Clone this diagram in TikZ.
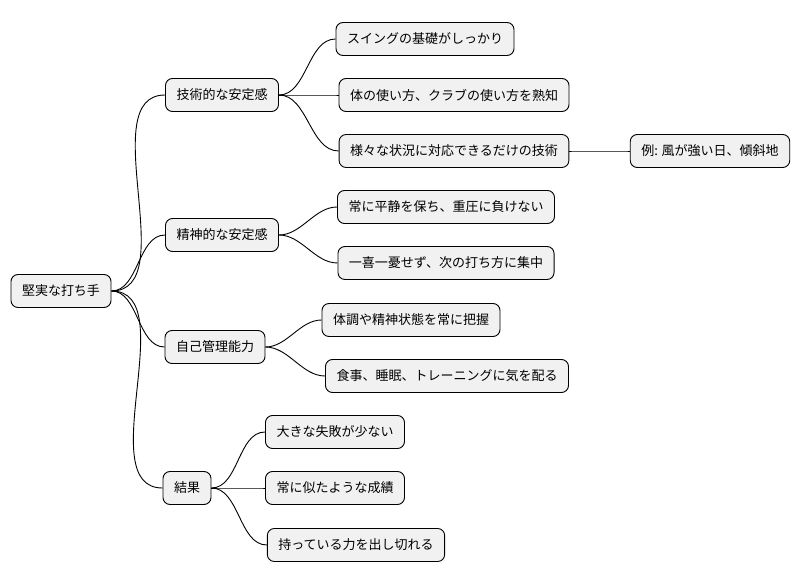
\documentclass[tikz,border=0pt]{standalone}
\usepackage{fontspec}
\setmainfont{Noto Sans CJK JP}
\usetikzlibrary{positioning}
\definecolor{boxgrey}{RGB}{241,241,241}
\tikzset{
  topic/.style={draw=black, fill=boxgrey, rounded corners=7pt, line width=0.9pt,
    minimum height=33pt, inner xsep=11pt, font=\fontsize{13}{15}\selectfont},
  branch/.style={line width=0.9pt, out=0, in=180, looseness=0.9}
}
\begin{document}
\begin{tikzpicture}[x=1pt, y=-1pt]
    \useasboundingbox (0,0) rectangle (806,583);
    % root and main topics
    \node[topic] (root) at (61,291) {堅実な打ち手};
    \node[topic] (tech) at (222,95) {技術的な安定感};
    \node[topic] (mind) at (222,235) {精神的な安定感};
    \node[topic] (self) at (215,347) {自己管理能力};
    \node[topic] (res) at (187,488) {結果};
    % leaves
    \node[topic] (swing) at (425,39) {スイングの基礎がしっかり};
    \node[topic] (body) at (454,95) {体の使い方、クラブの使い方を熟知};
    \node[topic] (various) at (454,151) {様々な状況に対応できるだけの技術};
    \node[topic] (wind) at (710,151) {例: 風が強い日、傾斜地};
    \node[topic] (calm) at (446,207) {常に平静を保ち、重圧に負けない};
    \node[topic] (focus) at (446,263) {一喜一憂せず、次の打ち方に集中};
    \node[topic] (cond) at (411,320) {体調や精神状態を常に把握};
    \node[topic] (meal) at (447,376) {食事、睡眠、トレーニングに気を配る};
    \node[topic] (fail) at (335,432) {大きな失敗が少ない};
    \node[topic] (score) at (335,488) {常に似たような成績};
    \node[topic] (power) at (356,545) {持っている力を出し切れる};
    % connectors
    \foreach \a/\b in {root/tech, root/mind, root/self, root/res,
        tech/swing, tech/body, tech/various, various/wind,
        mind/calm, mind/focus, self/cond, self/meal,
        res/fail, res/score, res/power}
      \draw[branch] (\a.east) to (\b.west);
\end{tikzpicture}
\end{document}
